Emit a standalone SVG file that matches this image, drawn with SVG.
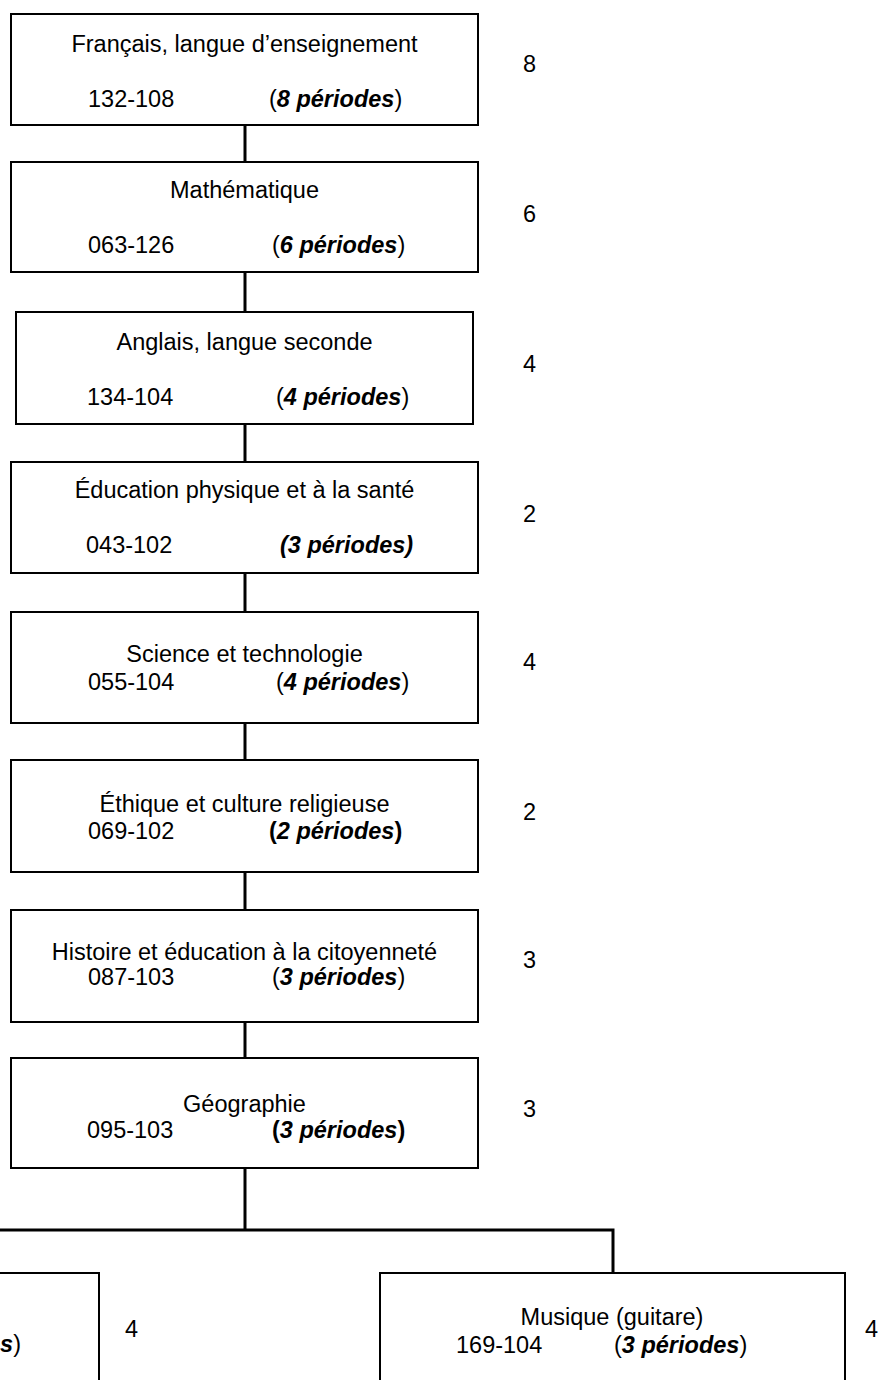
<svg xmlns="http://www.w3.org/2000/svg" width="878" height="1380" viewBox="0 0 878 1380">
<style>
.box{fill:#fff;stroke:#000;stroke-width:2}
.t{font-family:"Liberation Sans",Arial,sans-serif;font-size:23.5px;fill:#000}
.c{text-anchor:middle}
.bi{font-weight:bold;font-style:italic}
.b{font-weight:bold}
.con{stroke:#000;stroke-width:3;fill:none}
</style>
<rect width="878" height="1380" fill="#fff"/>
<g id="connectors">
<path class="con" d="M245 125V162M245 272V312M245 424V462M245 573V612M245 723V760M245 872V910M245 1022V1058M245 1168V1230M0 1230H613V1273"/>
</g>
<g id="francais">
<rect class="box" x="11" y="14" width="467" height="111"/>
<text class="t c" x="244.5" y="52">Français, langue d’enseignement</text>
<text class="t" x="88" y="107">132-108</text>
<text class="t" x="269" y="107">(<tspan class="bi">8 périodes</tspan>)</text>
<text class="t" x="523" y="72">8</text>
</g>
<g id="math">
<rect class="box" x="11" y="162" width="467" height="110"/>
<text class="t c" x="244.5" y="198">Mathématique</text>
<text class="t" x="88" y="253">063-126</text>
<text class="t" x="272" y="253">(<tspan class="bi">6 périodes</tspan>)</text>
<text class="t" x="523" y="222">6</text>
</g>
<g id="anglais">
<rect class="box" x="16" y="312" width="457" height="112"/>
<text class="t c" x="244.5" y="350">Anglais, langue seconde</text>
<text class="t" x="87" y="405">134-104</text>
<text class="t" x="276" y="405">(<tspan class="bi">4 périodes</tspan>)</text>
<text class="t" x="523" y="372">4</text>
</g>
<g id="education">
<rect class="box" x="11" y="462" width="467" height="111"/>
<text class="t c" x="244.5" y="498">Éducation physique et à la santé</text>
<text class="t" x="86" y="553">043-102</text>
<text class="t bi" x="280" y="553">(3 périodes)</text>
<text class="t" x="523" y="522">2</text>
</g>
<g id="science">
<rect class="box" x="11" y="612" width="467" height="111"/>
<text class="t c" x="244.5" y="662">Science et technologie</text>
<text class="t" x="88" y="690">055-104</text>
<text class="t" x="276" y="690">(<tspan class="bi">4 périodes</tspan>)</text>
<text class="t" x="523" y="670">4</text>
</g>
<g id="ethique">
<rect class="box" x="11" y="760" width="467" height="112"/>
<text class="t c" x="244.5" y="812">Éthique et culture religieuse</text>
<text class="t" x="88" y="839">069-102</text>
<text class="t b" x="269" y="839">(<tspan class="bi">2 périodes</tspan>)</text>
<text class="t" x="523" y="820">2</text>
</g>
<g id="histoire">
<rect class="box" x="11" y="910" width="467" height="112"/>
<text class="t c" x="244.5" y="960">Histoire et éducation à la citoyenneté</text>
<text class="t" x="88" y="985">087-103</text>
<text class="t" x="272" y="985">(<tspan class="bi">3 périodes</tspan>)</text>
<text class="t" x="523" y="968">3</text>
</g>
<g id="geographie">
<rect class="box" x="11" y="1058" width="467" height="110"/>
<text class="t c" x="244.5" y="1112">Géographie</text>
<text class="t" x="87" y="1138">095-103</text>
<text class="t b" x="272" y="1138">(<tspan class="bi">3 périodes</tspan>)</text>
<text class="t" x="523" y="1117">3</text>
</g>
<g id="left-option">
<rect class="box" x="-100" y="1273" width="199" height="200"/>
<text class="t" x="21" y="1352" text-anchor="end"><tspan class="bi">es</tspan>)</text>
<text class="t" x="125" y="1337">4</text>
</g>
<g id="musique">
<rect class="box" x="380" y="1273" width="465" height="200"/>
<text class="t c" x="612" y="1325">Musique (guitare)</text>
<text class="t" x="456" y="1353">169-104</text>
<text class="t" x="614" y="1353">(<tspan class="bi">3 périodes</tspan>)</text>
<text class="t" x="865" y="1337">4</text>
</g>
</svg>
